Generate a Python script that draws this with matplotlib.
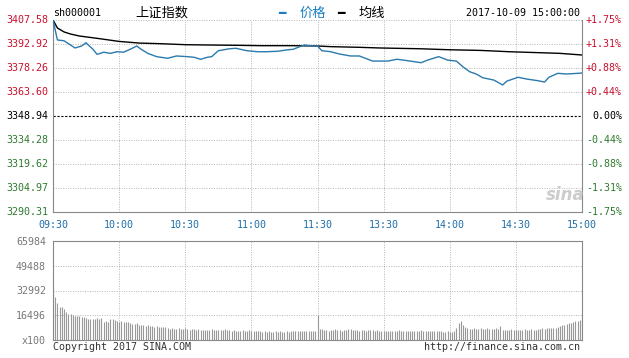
import matplotlib
matplotlib.use("Agg")
import matplotlib.pyplot as plt
import matplotlib.transforms as mtransforms
import numpy as np

plt.rcParams['font.family'] = ['DejaVu Sans Mono', 'Noto Sans CJK SC']

# Price line (minute since 09:30, price)
price_min = [0, 2, 5, 10, 13, 15, 16, 18, 20, 23, 26, 29, 32, 35, 38, 40, 43, 47, 52, 56,
             61, 64, 67, 70, 72, 75, 80, 83, 88, 93, 97, 102, 106, 109, 112, 114, 118, 120,
             122, 126, 130, 135, 139, 145, 152, 156, 161, 167, 170, 175, 179, 183, 186, 189,
             192, 195, 200, 204, 206, 211, 215, 220, 223, 225, 229, 233, 238, 240]
price_val = [3407.58, 3395.4, 3394.9, 3390.5, 3391.7, 3393.7, 3392.3, 3389.9, 3386.6, 3387.9,
             3387.2, 3388.2, 3387.9, 3389.7, 3391.7, 3389.7, 3387.2, 3385.2, 3384.2, 3385.6,
             3385.2, 3384.8, 3383.6, 3384.8, 3385.2, 3388.8, 3390.0, 3390.3, 3388.8, 3388.2,
             3388.2, 3388.5, 3389.3, 3389.7, 3391.3, 3392.3, 3391.7, 3391.7,
             3388.8, 3388.2, 3386.8, 3385.6, 3385.6, 3382.5, 3382.5, 3383.6, 3382.7, 3381.5,
             3383.1, 3385.2, 3383.1, 3382.5, 3379.0, 3376.0, 3374.6, 3372.3, 3370.9, 3367.9,
             3370.3, 3372.6, 3371.5, 3370.5, 3369.7, 3372.6, 3375.0, 3374.6, 3375.0, 3375.2]

# Average line
avg_min = [0, 2, 5, 8, 12, 21, 30, 39, 49, 60, 71, 85, 94, 108, 120, 126, 139, 148, 167, 180,
           194, 207, 221, 230, 240]
avg_val = [3407.58, 3402.7, 3400.3, 3399.0, 3397.8, 3396.2, 3394.5, 3393.5, 3393.1, 3392.5,
           3392.3, 3392.1, 3391.9, 3391.9, 3391.7, 3391.3, 3390.9, 3390.5, 3390.0, 3389.4,
           3389.0, 3388.2, 3387.6, 3387.2, 3386.2]

# Volume per minute (x100)
volume = [36700, 28800, 24900, 22200, 22000, 20600, 18900, 17300, 17300, 16500,
          16000, 15800, 16200, 15500, 15200, 14800,
          14000, 14200, 13800, 14100, 14500, 13900,
          14900, 12200, 12500, 12000, 13800, 14200,
          13000, 12500, 12300, 12800, 12000, 11800, 12200, 11500,
          10800, 10500, 11000, 10200, 9800, 10100, 9600, 9900, 9300,
          9200, 8900, 9100, 8700, 8800, 8500, 8900,
          7800, 7600, 8000, 7400, 7500, 7900, 7200, 7600, 7700,
          7100, 6900, 7300, 7000, 6800, 7200, 6900,
          6700, 6500, 6900, 6600, 7000, 6800, 6400, 6700, 6900, 6500, 7100, 6600, 6800,
          6200, 6400, 6000, 6300, 6100, 6500, 5900, 6200, 6400, 6000, 6300, 5800, 6100, 6200,
          5500, 5700, 5400, 5800, 5600, 5300, 5900, 5500, 5700, 5400, 5600, 5800, 5500,
          6000, 5800, 6200, 5900, 6100, 6300, 5700, 6000, 6200, 5900, 6100, 5800,
          16600,
          7100, 7400, 6800, 6900, 6300, 6500, 6800, 7000, 6600, 6400,
          6200, 6800, 6500, 7200, 7000, 6900, 6400, 6600, 6300, 6800, 6500, 6100, 6700, 6900,
          6400, 6200, 6600, 6300,
          6000, 5800, 6300, 6100, 5700, 6000, 6200, 5900, 6400, 6100, 5800, 6000, 6300, 5700,
          6100, 6000, 5900, 6200, 6500, 6000, 5800, 6100, 5900, 6300, 6000, 5700, 6200, 6000,
          5600, 5400, 5800, 5500, 5300, 5700,
          8000, 11100, 12700, 9800, 8400, 8000,
          7500, 7300, 7800, 7600, 7200, 7700, 7400, 7500, 7900, 7100, 7600, 7300, 7800, 7500,
          9000,
          6700, 6500, 6900, 6600, 7000, 6800, 6400, 6700, 6900, 6500, 7100, 6600, 6800, 7000,
          6600, 6900, 7200,
          7500, 7800, 7400, 8000, 7700, 8200, 7900, 8100, 8500,
          9500, 9800, 10200, 10600, 11000, 11500, 12200, 12500, 12900, 13300, 16600]

price_ticks = [3407.58, 3392.92, 3378.26, 3363.60, 3348.94, 3334.28, 3319.62, 3304.97, 3290.31]
pct_labels = ["+1.75%", "+1.31%", "+0.88%", "+0.44%", "0.00%", "-0.44%", "-0.88%", "-1.31%", "-1.75%"]
time_ticks = [0, 30, 60, 90, 120, 150, 180, 210, 240]
time_labels = ["09:30", "10:00", "10:30", "11:00", "11:30", "13:30", "14:00", "14:30", "15:00"]
vol_ticks = [0, 16496, 32992, 49488, 65984]
vol_labels = ["x100", "16496", "32992", "49488", "65984"]

RED = "#c8102e"
GREEN = "#2e7a2e"
BLUE = "#1f6fa8"
GRID = "#b4b4b4"
FS = 7.2
W, H = 629, 358

fig = plt.figure(figsize=(6.29, 3.58), dpi=100)
ax = fig.add_axes([53 / W, 1 - 212 / H, 529 / W, 192 / H])
axv = fig.add_axes([53 / W, 1 - 340 / H, 529 / W, 99 / H])

# ---- price chart ----
ax.plot(avg_min, avg_val, color="black", lw=1.0, zorder=3)
ax.plot(price_min, price_val, color="#2a7aad", lw=1.0, zorder=4)
ax.set_xlim(0, 240)
ax.set_ylim(price_ticks[-1], price_ticks[0])
for t in time_ticks[1:-1]:
    ax.axvline(t, color=GRID, lw=0.7, ls=(0, (1, 1.5)), zorder=1)
for p in price_ticks[:-1]:
    if p == 3348.94:
        ax.axhline(p, color="black", lw=0.8, ls=(0, (2, 1.5)), zorder=2)
    else:
        ax.axhline(p, color=GRID, lw=0.7, ls=(0, (1, 1.5)), zorder=1)
ax.set_yticks([])
ax.set_xticks(time_ticks)
ax.set_xticklabels(time_labels, color=BLUE, fontsize=FS)
ax.tick_params(axis="x", length=0, pad=6)
ax.spines["top"].set_visible(False)
for s in ["left", "right", "bottom"]:
    ax.spines[s].set_color("#888888")

tl = mtransforms.blended_transform_factory(fig.transFigure, ax.transData)
for i, (p, lab) in enumerate(zip(price_ticks, pct_labels)):
    c = RED if i < 4 else ("black" if i == 4 else GREEN)
    fig.text(48 / W, p, f"{p:.2f}", transform=tl, ha="right", va="center",
             color=c, fontsize=FS)
    fig.text(622 / W, p, lab, transform=tl, ha="right", va="center",
             color=c, fontsize=FS)

fig.text(565 / W, 1 - 195 / H, "sina", fontsize=12, style="italic", color="#cccccc",
         ha="center", va="center", family="DejaVu Sans", weight="bold")

# ---- volume chart ----
axv.vlines(np.arange(len(volume)), 0, volume, color="#999999", lw=0.8)
axv.set_xlim(0, 240)
axv.set_ylim(0, 65984)
for t in time_ticks[1:-1]:
    axv.axvline(t, color=GRID, lw=0.7, ls=(0, (1, 1.5)), zorder=0)
for v in vol_ticks[1:-1]:
    axv.axhline(v, color=GRID, lw=0.7, ls=(0, (1, 1.5)), zorder=0)
axv.set_xticks([])
axv.set_yticks(vol_ticks)
axv.set_yticklabels(vol_labels, color="#777777", fontsize=FS)
axv.tick_params(axis="y", length=0, pad=5)
for s in axv.spines.values():
    s.set_color("#888888")

# ---- header / footer ----
fig.text(53 / W, 1 - 13 / H, "sh000001", fontsize=FS, va="center", ha="left")
fig.text(135 / W, 1 - 13 / H, "上证指数", fontsize=9.5, va="center", ha="left",
         family=["Noto Sans CJK SC", "DejaVu Sans"])
fig.text(282 / W, 1 - 13 / H, "\u2501", fontsize=9, color="#1a7fc4", va="center", ha="center",
         family="DejaVu Sans")
fig.text(300 / W, 1 - 13 / H, "价格", fontsize=9.5, color="#1a7fc4", va="center", ha="left",
         family=["Noto Sans CJK SC", "DejaVu Sans"])
fig.text(341 / W, 1 - 13 / H, "\u2501", fontsize=9, color="black", va="center", ha="center",
         family="DejaVu Sans")
fig.text(359 / W, 1 - 13 / H, "均线", fontsize=9.5, color="black", va="center", ha="left",
         family=["Noto Sans CJK SC", "DejaVu Sans"])
fig.text(580 / W, 1 - 13 / H, "2017-10-09 15:00:00", fontsize=FS, va="center", ha="right")
fig.text(53 / W, 1 - 347 / H, "Copyright 2017 SINA.COM", fontsize=FS, va="center", ha="left",
         color="#333333")
fig.text(580 / W, 1 - 347 / H, "http://finance.sina.com.cn", fontsize=FS, va="center",
         ha="right", color="#333333")

fig.savefig("out.png", dpi=100)
